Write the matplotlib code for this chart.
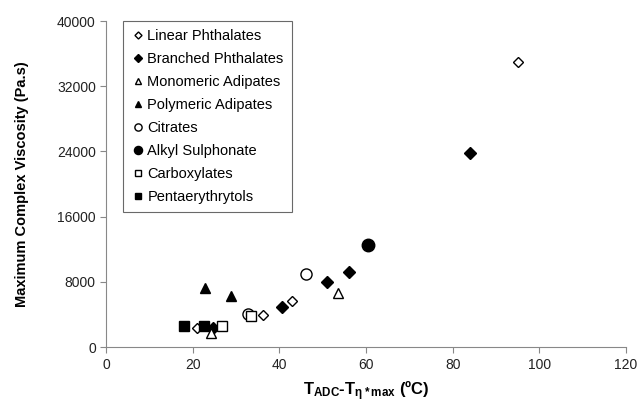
import matplotlib
matplotlib.use('Agg')
import matplotlib.pyplot as plt

plt.rcParams['font.family'] = ['Liberation Sans', 'DejaVu Sans']
plt.rcParams['mathtext.fontset'] = 'custom'
plt.rcParams['mathtext.rm'] = 'Liberation Sans'
plt.rcParams['mathtext.bf'] = 'Liberation Sans:bold'

# data
linear_x = [21.0, 36.2, 42.9, 95.1]
linear_y = [2300, 3900, 5600, 35000]
branched_x = [24.7, 40.6, 51.0, 56.1, 84.0]
branched_y = [2400, 4900, 8000, 9200, 23800]
mono_x = [24.2, 53.5]
mono_y = [1700, 6600]
poly_x = [22.8, 28.8]
poly_y = [7200, 6250]
citr_x = [32.8, 46.1]
citr_y = [4050, 8950]
alkyl_x = [60.5]
alkyl_y = [12500]
carb_x = [26.8, 33.4]
carb_y = [2600, 3800]
penta_x = [17.9, 22.5]
penta_y = [2600, 2600]

fig = plt.figure(figsize=(6.4, 4.05), dpi=100)
ax = fig.add_axes([0.166, 0.143, 0.812, 0.805])

k = dict(color='black', linestyle='none', markeredgecolor='black', markeredgewidth=1.0)
ax.plot(linear_x, linear_y, marker='D', markersize=5.5, markerfacecolor='white', label='Linear Phthalates', **k)
ax.plot(branched_x, branched_y, marker='D', markersize=6, markerfacecolor='black', label='Branched Phthalates', **k)
ax.plot(mono_x, mono_y, marker='^', markersize=6.5, markerfacecolor='white', label='Monomeric Adipates', **k)
ax.plot(poly_x, poly_y, marker='^', markersize=7, markerfacecolor='black', label='Polymeric Adipates', **k)
ax.plot(citr_x, citr_y, marker='o', markersize=8, markerfacecolor='white', label='Citrates', **k)
ax.plot(alkyl_x, alkyl_y, marker='o', markersize=9, markerfacecolor='black', label='Alkyl Sulphonate', **k)
ax.plot(carb_x, carb_y, marker='s', markersize=7, markerfacecolor='white', label='Carboxylates', **k)
ax.plot(penta_x, penta_y, marker='s', markersize=6.5, markerfacecolor='black', label='Pentaerythrytols', **k)

ax.set_xlim(0, 120)
ax.set_ylim(0, 40000)
ax.set_xticks(range(0, 121, 20))
ax.set_yticks(range(0, 40001, 8000))
ax.spines['top'].set_visible(False)
ax.spines['right'].set_visible(False)
for s in ['left', 'bottom']:
    ax.spines[s].set_color('#888888')
ax.tick_params(direction='out', length=4, color='#888888', labelsize=10, labelcolor='#222222')

ax.set_xlabel(r'$\mathbf{T_{ADC}}$' + '-' + r'$\mathbf{T_{\eta*max}}$' + ' (ºC)',
              fontsize=12, fontweight='bold', labelpad=6)
ax.set_ylabel('Maximum Complex Viscosity (Pa.s)', fontsize=10.5, fontweight='bold', labelpad=20)

leg = ax.legend(loc='upper left', bbox_to_anchor=(0.033, 1.0), borderaxespad=0, frameon=True,
                fancybox=False, edgecolor='#444444', fontsize=10.5, labelspacing=0.62,
                handletextpad=0.2, handlelength=0.9, borderpad=0.55, markerscale=0.65)
leg.get_frame().set_linewidth(0.8)

fig.savefig('out.png', dpi=100)
